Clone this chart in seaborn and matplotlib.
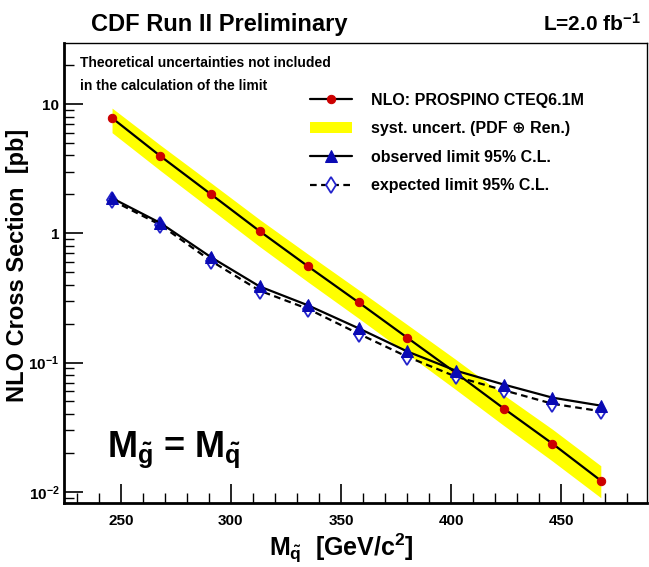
import numpy as np
import pandas as pd
import matplotlib
matplotlib.use("Agg")
import matplotlib.pyplot as plt
import matplotlib.ticker as mticker
import seaborn as sns

# ==========================================
# data
# ==========================================
mass = [246, 268, 291, 313, 335, 358, 380, 402, 424, 446, 468]
nlo_xsec = [7.8, 3.95, 2.0, 1.04, 0.555, 0.292, 0.156, 0.0835, 0.044, 0.0236, 0.0122]
band_hi = [9.3, 4.8, 2.45, 1.28, 0.69, 0.365, 0.197, 0.106, 0.056, 0.0305, 0.0159]
band_lo = [6.0, 3.05, 1.53, 0.79, 0.42, 0.22, 0.117, 0.062, 0.0325, 0.0173, 0.0090]
obs_limit = [1.87, 1.20, 0.652, 0.388, 0.277, 0.184, 0.122, 0.0867, 0.0675, 0.0535, 0.0464]
exp_limit = [1.80, 1.16, 0.61, 0.36, 0.26, 0.167, 0.111, 0.078, 0.061, 0.048, 0.042]

legend_labels = ["NLO: PROSPINO CTEQ6.1M",
                 "syst. uncert. (PDF \u2295 Ren.)",
                 "observed limit 95% C.L.",
                 "expected limit 95% C.L."]

df = pd.DataFrame({"mass": mass, "nlo": nlo_xsec, "hi": band_hi, "lo": band_lo,
                   "obs": obs_limit, "exp": exp_limit})

# ==========================================
# style
# ==========================================
sns.set_theme(style="white")
plt.rcParams["font.family"] = ["Liberation Sans", "DejaVu Sans"]
plt.rcParams["font.weight"] = "bold"
plt.rcParams["text.color"] = "black"
plt.rcParams["axes.labelcolor"] = "black"
plt.rcParams["xtick.color"] = "black"
plt.rcParams["ytick.color"] = "black"
plt.rcParams["mathtext.fontset"] = "custom"
plt.rcParams["mathtext.rm"] = "Liberation Sans:bold"
plt.rcParams["mathtext.it"] = "Liberation Sans:bold"
plt.rcParams["mathtext.bf"] = "Liberation Sans:bold"

fig = plt.figure(figsize=(6.49, 5.67), dpi=100)
ax = fig.add_axes([0.098, 0.113, 0.899, 0.812])

# band first, lines on top
band = ax.fill_between(df["mass"], df["lo"], df["hi"], color="#ffff00", lw=0,
                       label=legend_labels[1], zorder=1)
sns.lineplot(data=df, x="mass", y="nlo", ax=ax, color="black", lw=1.6,
             marker="o", markersize=6, markerfacecolor="#cc0000",
             markeredgecolor="#cc0000", label=legend_labels[0], zorder=4)
sns.lineplot(data=df, x="mass", y="exp", ax=ax, color="black", lw=1.6,
             linestyle=(0, (3, 2)), marker="d", markersize=8,
             markerfacecolor="white", markeredgecolor="#2323cc",
             markeredgewidth=1.3, label=legend_labels[3], zorder=3)
sns.lineplot(data=df, x="mass", y="obs", ax=ax, color="black", lw=1.6,
             marker="^", markersize=8, markerfacecolor="#0a0ab4",
             markeredgecolor="#0a0ab4", label=legend_labels[2], zorder=5)

ax.set_yscale("log")
ax.set_xlim(224, 489)
ax.set_ylim(0.0082, 29.9)

# ROOT-like ticks (inside, only left/bottom)
ax.xaxis.set_major_locator(mticker.MultipleLocator(50))
ax.xaxis.set_minor_locator(mticker.MultipleLocator(10))
ax.yaxis.set_major_locator(mticker.LogLocator(base=10, numticks=10))
ax.yaxis.set_minor_locator(mticker.LogLocator(base=10, subs=np.arange(2, 10), numticks=10))
ax.yaxis.set_minor_formatter(mticker.NullFormatter())
ylabels = {10: "10", 1: "1", 0.1: "$10^{-1}$", 0.01: "$10^{-2}$"}
ax.yaxis.set_major_formatter(mticker.FuncFormatter(
    lambda v, p: ylabels.get(round(v, 4), "")))
ax.tick_params(axis="both", which="both", direction="in", top=False, right=False,
               left=True, bottom=True, colors="black", labelsize=11)
ax.tick_params(axis="both", which="major", length=14, width=1.2)
ax.tick_params(axis="x", which="major", pad=8)
ax.tick_params(axis="y", which="major", pad=3)
ax.tick_params(axis="both", which="minor", length=7, width=1.0)
for lab in ax.get_xticklabels() + ax.get_yticklabels():
    lab.set_fontweight("bold")

for side in ["left", "bottom"]:
    ax.spines[side].set_linewidth(2.0)
for side in ["top", "right"]:
    ax.spines[side].set_linewidth(1.0)
for s in ax.spines.values():
    s.set_color("black")

ax.set_xlabel(r"$M_{\tilde{q}}$  [GeV/c$^{2}$]", fontsize=18, fontweight="bold")
ax.xaxis.set_label_coords(0.477, -0.062)
ax.set_ylabel("NLO Cross Section  [pb]", fontsize=17, fontweight="bold")
ax.yaxis.set_label_coords(-0.059, 0.517)

# legend in ROOT order
handles, labels = ax.get_legend_handles_labels()
hmap = dict(zip(labels, handles))
ax.legend([hmap[l] for l in legend_labels], legend_labels,
          loc="upper left", bbox_to_anchor=(0.468, 0.848),
          bbox_transform=fig.transFigure, frameon=False,
          fontsize=11.5, handlelength=2.6, labelspacing=0.85,
          handletextpad=1.2, borderaxespad=0)

# annotations
fig.text(0.14, 0.945, "CDF Run II Preliminary", fontsize=17, fontweight="bold")
fig.text(0.987, 0.945, "L=2.0 fb$^{-1}$", fontsize=15, ha="right")
ax.text(0.028, 0.955, "Theoretical uncertainties not included", transform=ax.transAxes,
        fontsize=10, fontweight="bold", va="center")
ax.text(0.028, 0.905, "in the calculation of the limit", transform=ax.transAxes,
        fontsize=10, fontweight="bold", va="center")
ax.text(0.075, 0.1, r"$M_{\tilde{g}}$ = $M_{\tilde{q}}$", transform=ax.transAxes,
        fontsize=26, fontweight="bold")

fig.savefig("out.png", dpi=100)
